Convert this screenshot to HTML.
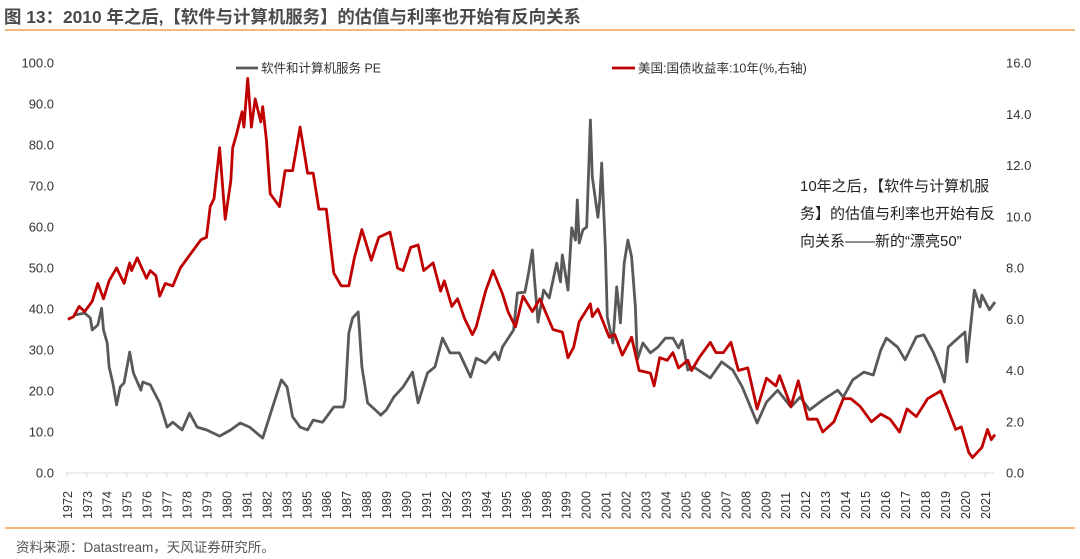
<!DOCTYPE html>
<html><head><meta charset="utf-8">
<style>
html,body{margin:0;padding:0;background:#fff;}
body{width:1080px;height:559px;overflow:hidden;position:relative;font-family:"Liberation Sans","Noto Sans CJK SC",sans-serif;}
#title{position:absolute;left:4px;top:4px;font-size:17.4px;font-weight:bold;color:#4a4a4a;white-space:nowrap;}
#footer{position:absolute;left:16px;top:536px;font-size:13.5px;color:#555;white-space:nowrap;}
svg{position:absolute;left:0;top:0;}
</style></head>
<body>
<div id="title">图 13：2010 年之后,【软件与计算机服务】的估值与利率也开始有反向关系</div>
<div id="footer">资料来源：Datastream，天风证券研究所。</div>
<svg id="chart" width="1080" height="559" xmlns="http://www.w3.org/2000/svg"></svg>
<script>
const xLabels=["1972","1973","1974","1975","1976","1977","1978","1979","1980","1981","1982","1983","1985","1986","1987","1988","1989","1990","1991","1992","1993","1994","1995","1996","1998","1999","2000","2001","2002","2003","2004","2005","2006","2007","2008","2009","2011","2012","2013","2014","2015","2016","2017","2018","2019","2020","2021"];
const leftTicks=[0,10,20,30,40,50,60,70,80,90,100];
const rightTicks=[0,2,4,6,8,10,12,14,16];
const peYears=[1972.4,1973.0,1973.3,1973.4,1973.7,1973.9,1974.0,1974.2,1974.3,1974.5,1974.7,1974.9,1975.1,1975.4,1975.6,1976.0,1976.1,1976.5,1977.0,1977.4,1977.7,1978.2,1978.6,1979.0,1979.5,1980.2,1980.8,1981.3,1981.8,1982.5,1983.1,1983.5,1983.8,1984.1,1984.5,1984.9,1985.2,1985.7,1986.3,1986.8,1986.9,1987.1,1987.3,1987.6,1987.8,1988.1,1988.7,1988.8,1989.1,1989.5,1990.0,1990.5,1990.8,1991.3,1991.7,1992.1,1992.5,1993.0,1993.6,1993.9,1994.4,1994.9,1995.1,1995.3,1995.9,1996.1,1996.5,1996.7,1996.9,1997.0,1997.2,1997.5,1997.8,1998.2,1998.4,1998.5,1998.8,1999.0,1999.2,1999.3,1999.4,1999.6,1999.8,2000.0,2000.1,2000.4,2000.5,2000.6,2000.8,2000.9,2001.2,2001.4,2001.6,2001.8,2002.0,2002.2,2002.4,2002.5,2002.8,2003.2,2003.6,2004.0,2004.4,2004.7,2004.9,2005.2,2005.5,2006.4,2007.0,2007.6,2008.1,2008.9,2009.4,2010.0,2010.7,2011.2,2011.7,2012.4,2013.2,2013.5,2014.0,2014.6,2015.1,2015.5,2015.8,2016.4,2016.8,2017.4,2017.8,2018.3,2018.7,2018.9,2019.1,2019.5,2020.0,2020.1,2020.5,2020.8,2020.9,2021.3,2021.6];
const peValues=[38.5,39.0,37.8,34.9,36.1,40.2,34.9,31.7,25.9,22.0,16.6,21.0,22.0,29.5,24.4,20.2,22.2,21.5,17.1,11.2,12.4,10.5,14.6,11.2,10.5,9.0,10.5,12.2,11.2,8.5,17.1,22.7,21.0,13.7,11.2,10.5,12.9,12.4,16.1,16.1,17.8,34.1,37.8,39.3,25.9,17.1,14.6,14.1,15.4,18.5,21.0,24.6,17.1,24.4,25.9,32.9,29.3,29.3,23.4,28.0,26.8,29.5,27.6,30.7,34.9,43.9,44.1,48.8,54.4,47.8,36.8,44.6,42.7,51.2,46.6,53.2,44.6,59.8,56.8,66.6,56.1,59.3,60.0,86.1,72.2,62.4,66.6,75.6,54.4,38.0,31.7,45.4,36.6,51.2,56.8,52.7,40.5,27.6,31.7,29.3,30.7,32.9,32.9,30.5,32.4,25.1,25.9,23.2,27.1,25.1,21.0,12.2,17.3,20.2,16.1,18.5,15.4,17.8,20.2,18.5,22.7,24.6,23.9,30.0,32.9,30.7,27.6,33.2,33.7,29.5,25.1,22.2,30.7,32.4,34.4,27.1,44.6,40.5,43.4,39.8,41.7];
const yieldYears=[1972.1,1972.4,1972.7,1973.0,1973.4,1973.7,1974.0,1974.3,1974.7,1975.1,1975.4,1975.5,1975.8,1976.3,1976.5,1976.8,1977.0,1977.3,1977.7,1978.1,1978.6,1979.2,1979.5,1979.7,1979.9,1980.2,1980.5,1980.8,1980.9,1981.1,1981.4,1981.5,1981.7,1981.9,1982.1,1982.4,1982.5,1982.7,1982.9,1983.3,1983.4,1983.7,1984.1,1984.5,1984.9,1985.2,1985.5,1985.9,1986.3,1986.7,1987.1,1987.4,1987.8,1988.3,1988.7,1989.3,1989.7,1990.0,1990.4,1990.8,1991.1,1991.6,1992.0,1992.2,1992.6,1992.9,1993.3,1993.7,1993.9,1994.4,1994.8,1995.3,1995.6,1996.0,1996.4,1996.9,1997.3,1998.0,1998.5,1998.8,1999.1,1999.4,2000.0,2000.1,2000.4,2001.0,2001.3,2001.7,2002.2,2002.6,2003.2,2003.4,2003.7,2004.1,2004.4,2004.7,2005.2,2005.4,2005.8,2006.4,2006.7,2007.1,2007.5,2007.9,2008.4,2008.9,2009.4,2009.9,2010.1,2010.7,2011.1,2011.6,2012.1,2012.4,2013.0,2013.5,2013.9,2014.4,2015.0,2015.5,2016.0,2016.5,2016.9,2017.4,2018.0,2018.7,2019.5,2019.8,2020.2,2020.4,2020.9,2021.2,2021.4,2021.6];
const yieldValues=[6.0,6.1,6.5,6.3,6.7,7.4,6.8,7.5,8.0,7.4,8.2,7.9,8.4,7.6,7.9,7.7,6.9,7.4,7.3,8.0,8.5,9.1,9.2,10.4,10.7,12.7,9.9,11.4,12.7,13.2,14.1,13.5,15.4,13.5,14.6,13.7,14.3,13.0,10.9,10.5,10.4,11.8,11.8,13.5,11.7,11.7,10.3,10.3,7.8,7.3,7.3,8.4,9.5,8.3,9.2,9.4,8.0,7.9,8.8,8.9,7.9,8.2,7.1,7.5,6.5,6.8,6.0,5.4,5.7,7.1,7.9,7.0,6.3,5.7,6.9,6.3,6.8,5.6,5.5,4.5,4.9,5.9,6.6,6.1,6.4,5.3,5.4,4.6,5.3,4.0,3.9,3.4,4.5,4.4,4.7,4.1,4.4,4.0,4.5,5.1,4.7,4.7,5.1,4.0,4.1,2.5,3.7,3.4,3.8,2.6,3.6,2.1,2.1,1.6,2.0,2.9,2.9,2.6,2.0,2.3,2.1,1.6,2.5,2.2,2.9,3.2,1.7,1.8,0.8,0.6,1.0,1.7,1.3,1.5];

const NS="http://www.w3.org/2000/svg";
const svg=document.getElementById('chart');
const X0=66,X1=994,Y0=473,Y1=63;
const tMin=1972.0;
function xScale(t){return 66+(t-tMin)*18.73;}
function yLeft(v){return Y0-(v/100)*(Y0-Y1);}
function yRight(v){return Y0-(v/16)*(Y0-Y1);}
function labelX(i){return 67+i*(918/(xLabels.length-1));}
function mk(tag,attrs){const e=document.createElementNS(NS,tag);for(const k in attrs)e.setAttribute(k,attrs[k]);svg.appendChild(e);return e;}

let r1=mk('line',{x1:5,y1:30,x2:1075,y2:30,stroke:'#f0a04b','stroke-width':1.5});


let r2=mk('line',{x1:5,y1:528,x2:1075,y2:528,stroke:'#f0a04b','stroke-width':1.5});



let ax=mk('line',{x1:X0,y1:Y0,x2:X1,y2:Y0,stroke:'#d9d9d9','stroke-width':1});


xLabels.forEach((lab,i)=>{
  const x=labelX(i);
  const tk=mk('line',{x1:x,y1:Y0,x2:x,y2:Y0+4,stroke:'#d9d9d9'});
  
  
  const t=mk('text',{x:0,y:0,transform:`translate(${x+4.8},${Y0+46}) rotate(-90)`,'font-size':12.6,fill:'#333'});
  t.textContent=lab;
  
  
});
leftTicks.forEach(v=>{
  const t=mk('text',{x:54,y:yLeft(v)+4.5,'text-anchor':'end','font-size':13,fill:'#333'});
  t.textContent=v.toFixed(1);
  
  
});
rightTicks.forEach(v=>{
  const t=mk('text',{x:1006,y:yRight(v)+4.5,'font-size':13,fill:'#333'});
  t.textContent=v.toFixed(1);
  
  
});

function line(xs,ys,yf,color,name){
  let d='';
  xs.forEach((t,i)=>{d+=(i?'L':'M')+xScale(t).toFixed(1)+','+yf(ys[i]).toFixed(1);});
  const p=mk('path',{d:d,fill:'none',stroke:color,'stroke-width':2.8,'stroke-linejoin':'round'});
  
  
}
line(peYears,peValues,yLeft,'#595959','pe-line');
line(yieldYears,yieldValues,yRight,'#c00000','yield-line');

let l1=mk('line',{x1:236,y1:68,x2:258,y2:68,stroke:'#595959','stroke-width':2.8});


let lt1=mk('text',{x:261,y:72.5,'font-size':12.5,fill:'#333'});
lt1.textContent='软件和计算机服务 PE';


let l2=mk('line',{x1:612,y1:68,x2:635,y2:68,stroke:'#c00000','stroke-width':2.8});


let lt2=mk('text',{x:638,y:72.5,'font-size':12.5,fill:'#333'});
lt2.textContent='美国:国债收益率:10年(%,右轴)';



['10年之后，【软件与计算机服','务】的估值与利率也开始有反','向关系——新的“漂亮50”'].forEach((s,i)=>{
  const t=mk('text',{x:800,y:191+i*27.5,'font-size':15,fill:'#222'});
  t.textContent=s;
  
  
});
</script>
</body></html>
